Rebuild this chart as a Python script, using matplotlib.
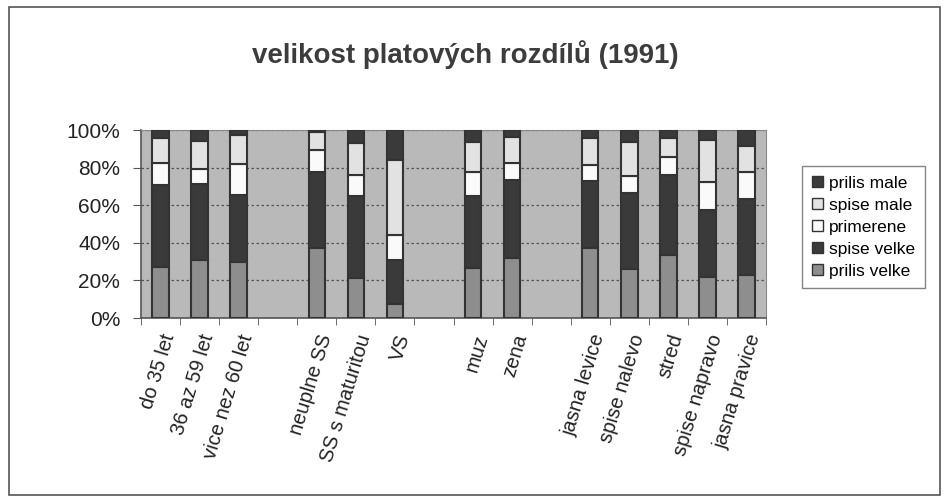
import numpy as np
import matplotlib.pyplot as plt
from matplotlib.patches import Patch, Rectangle

plt.rcParams['font.family'] = ['Liberation Sans', 'DejaVu Sans']

title = "velikost platových rozdílů (1991)"
groups = [["do 35 let", "36 az 59 let", "vice nez 60 let"],
          ["neuplne SS", "SS s maturitou", "VS"],
          ["muz", "zena"],
          ["jasna levice", "spise nalevo", "stred", "spise napravo", "jasna pravice"]]

series = ["prilis velke", "spise velke", "primerene", "spise male", "prilis male"]
prilis_velke = [27.0, 31.0, 30.0, 37.5, 21.4, 7.5, 26.7, 31.8, 37.2, 26.2, 33.6, 21.9, 23.1]
spise_velke = [43.6, 40.5, 35.3, 40.2, 43.5, 23.1, 38.1, 41.5, 35.9, 40.5, 42.7, 35.4, 40.1]
primerene = [11.9, 7.5, 16.4, 11.6, 11.4, 13.7, 12.9, 8.9, 8.2, 8.9, 9.1, 14.8, 14.2]
spise_male = [13.1, 15.1, 15.6, 9.5, 16.6, 40.0, 16.1, 14.1, 14.6, 18.2, 10.5, 22.6, 14.1]
prilis_male = [4.4, 5.9, 2.7, 1.2, 7.1, 15.7, 6.2, 3.7, 4.1, 6.2, 4.1, 5.3, 8.5]

colors = ["#8e8e8e", "#3a3a3a", "#fafafa", "#e2e2e2", "#3a3a3a"]

# positions with one empty slot between groups
labels = []
xpos = []
slot = 0
for g in groups:
    for name in g:
        labels.append(name)
        xpos.append(slot)
        slot += 1
    slot += 1
nslots = slot - 1
xpos = np.array(xpos)

fig = plt.figure(figsize=(9.49, 5.0), dpi=100)
fig.patches.append(Rectangle((0.009, 0.01), 0.982, 0.976, transform=fig.transFigure,
                             fill=False, edgecolor="#555555", linewidth=1.2))
ax = fig.add_axes([0.1486, 0.364, 0.6586, 0.376])
ax.set_facecolor("#b9b9b9")

data = [prilis_velke, spise_velke, primerene, spise_male, prilis_male]
totals = np.array([sum(col) for col in zip(*data)])
bottom = np.zeros(len(labels))
for vals, c in zip(data, colors):
    v = np.array(vals) / totals * 100
    ax.bar(xpos, v, width=0.42, bottom=bottom, color=c, edgecolor="#333333",
           linewidth=1.5, zorder=3)
    bottom += v

ax.set_xlim(-0.5, nslots - 0.5)
ax.set_ylim(0, 100)
ax.set_yticks(np.arange(0, 101, 20))
ax.set_yticklabels([f"{t}%" for t in range(0, 101, 20)], fontsize=15, color="#222222")
ax.yaxis.grid(True, linestyle=(0, (2, 2)), color="#555555", linewidth=0.9, zorder=1)
ax.set_axisbelow(True)

ax.set_xticks(xpos)
ax.set_xticklabels(labels, rotation=73, ha="right", va="top", rotation_mode="anchor",
                   fontsize=14.5, color="#222222")
ax.tick_params(axis="x", which="major", length=0, pad=10)
ax.set_xticks(np.arange(-0.5, nslots, 1.0), minor=True)
ax.tick_params(axis="x", which="minor", length=5, color="#555555", direction="out")
ax.tick_params(axis="y", length=6, color="#555555", direction="out", pad=9)

for side in ["top", "right"]:
    ax.spines[side].set_color("#888888")
for side in ["left", "bottom"]:
    ax.spines[side].set_color("#555555")
    ax.spines[side].set_linewidth(1.2)

fig.text(0.49, 0.89, title, ha="center", va="center", fontsize=20,
         fontweight="bold", color="#3c3c3c")

handles = [Patch(facecolor=c, edgecolor="#333333", label=s) for s, c in zip(series, colors)]
leg = fig.legend(handles[::-1], series[::-1], loc="upper left",
                 bbox_to_anchor=(0.836, 0.685), fontsize=12.5, frameon=True,
                 fancybox=False, edgecolor="#666666", handlelength=0.65,
                 handleheight=0.65, handletextpad=0.35, labelspacing=0.4,
                 borderpad=0.55)
leg.get_frame().set_linewidth(1.0)

fig.savefig("out.png", dpi=100)
